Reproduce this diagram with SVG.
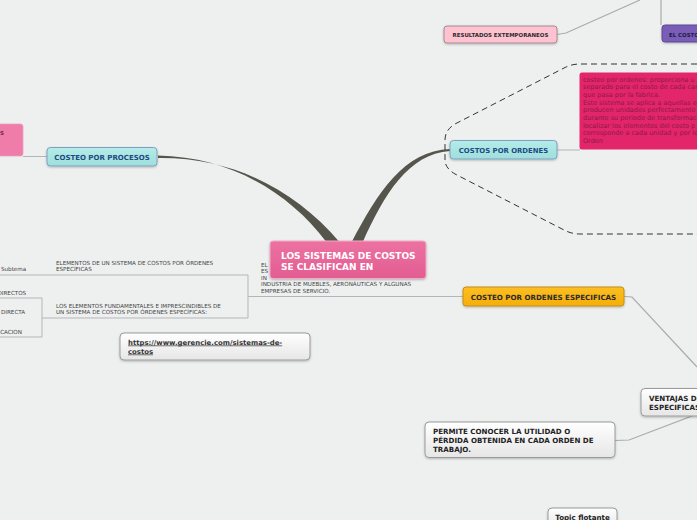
<svg xmlns="http://www.w3.org/2000/svg" width="697" height="520" viewBox="0 0 697 520">
<defs>
<linearGradient id="gCentral" x1="0" y1="0" x2="0" y2="1"><stop offset="0" stop-color="#ec72a2"/><stop offset="1" stop-color="#e35c91"/></linearGradient>
<linearGradient id="gCyan" x1="0" y1="0" x2="0" y2="1"><stop offset="0" stop-color="#b4ece8"/><stop offset="1" stop-color="#9edfdc"/></linearGradient>
<linearGradient id="gOrange" x1="0" y1="0" x2="0" y2="1"><stop offset="0" stop-color="#fdbf22"/><stop offset="1" stop-color="#f6ae0a"/></linearGradient>
<linearGradient id="gWhite" x1="0" y1="0" x2="0" y2="1"><stop offset="0" stop-color="#ffffff"/><stop offset="1" stop-color="#e6e6e6"/></linearGradient>
<filter id="sh" x="-10%" y="-20%" width="120%" height="150%"><feDropShadow dx="0" dy="1" stdDeviation="0.8" flood-color="#000" flood-opacity="0.25"/></filter>
</defs>
<style>
.b{font-family:"DejaVu Sans",Verdana,sans-serif;font-weight:bold}
.r{font-family:"DejaVu Sans",Verdana,sans-serif}
.ln{fill:none;stroke:#b4b7b7;stroke-width:1}
.lnd{fill:none;stroke:#a9acac;stroke-width:1.2}
.small{font-size:5.6px;fill:#444}
</style>
<rect width="697" height="520" fill="#eef0f0"/>

<g id="connectors">
<path d="M158,155.6 C232,157 290,194 326,241.5 L339,241.5 C296,191 234,157 158,158 Z" fill="#55554c"/>
<path d="M352,241.5 C378,192 404,151 450,149 L450,151 C408,154 384,195 363,241.5 Z" fill="#55554c"/>
<path class="ln" d="M23,156.5 L47,156.5"/>
<path class="ln" d="M557,150 L580,150"/>
<path class="lnd" d="M557,34.5 L566,33 L640,0"/>
<path class="lnd" d="M661,0 L661,25"/>
<path class="ln" d="M0,275 L248,275 L248,318 L52,318"/>
<path class="ln" d="M248,296.5 L463,296.5"/>
<path class="ln" d="M0,298 L42,298 L42,337 L0,337 M42,318 L52,318"/>
<path class="lnd" d="M624,296.5 L632,297 L697,367"/>
<path class="lnd" d="M615,440.5 L629,440 L697,414"/>
<path d="M697,64 L580,64 Q572,64 565,67.5 L455,124 Q445,130 445,140 L445,160 Q445,168 455,174 L565,230.5 Q572,234 580,234 L697,234" fill="none" stroke="#333" stroke-width="1" stroke-dasharray="6,4"/>
</g>

<g id="text-el">
<text class="r small" x="261" y="266.5">EL</text>
<text class="r small" x="261" y="273">ES</text>
<text class="r small" x="261" y="279.5">IN</text>
<text class="r small" x="261" y="286">INDUSTRIA DE MUEBLES, AERONÁUTICAS Y ALGUNAS</text>
<text class="r small" x="261" y="292.5">EMPRESAS DE SERVICIO.</text>
</g>

<g id="central">
<rect x="270" y="241" width="156" height="37.5" rx="3" fill="url(#gCentral)" stroke="#f3a9c6" stroke-width="1" filter="url(#sh)"/>
<text class="b" x="281" y="258.5" font-size="9" fill="#fff">LOS SISTEMAS DE COSTOS</text>
<text class="b" x="281" y="269.5" font-size="9" fill="#fff">SE CLASIFICAN EN</text>
</g>

<g id="pink-left">
<rect x="-6" y="124" width="29" height="32" rx="2.5" fill="#f07ca9" stroke="#e7a0bd" stroke-width="0.8"/>
<text class="b" x="0" y="135" font-size="5.5" fill="#6a2e46">S</text>
</g>

<g id="costeo-procesos">
<rect x="47" y="147.5" width="110" height="18.5" rx="3.5" fill="url(#gCyan)" stroke="#7f9fbf" stroke-width="1" filter="url(#sh)"/>
<text class="b" x="102" y="160" font-size="7" fill="#1d4a82" text-anchor="middle">COSTEO POR PROCESOS</text>
</g>

<g id="costos-ordenes">
<rect x="450" y="140.5" width="107" height="18.5" rx="3.5" fill="url(#gCyan)" stroke="#7f9fbf" stroke-width="1" filter="url(#sh)"/>
<text class="b" x="503.5" y="153" font-size="6.9" fill="#1d4a82" text-anchor="middle">COSTOS POR ORDENES</text>
</g>

<g id="nota-ordenes">
<rect x="579.5" y="72.5" width="130" height="77" rx="2.5" fill="#e3256a"/>
<g class="r" font-size="6.5" fill="#8e1a48">
<text x="583" y="81.5">costeo por ordenes: proporciona u</text>
<text x="583" y="89.2">separado para el costo de cada car</text>
<text x="583" y="96.9">que pasa por la fabrica.</text>
<text x="583" y="104.6">Este sistema se aplica a aquellas e</text>
<text x="583" y="112.3">producen unidades perfectamente</text>
<text x="583" y="120">durante su periodo de transformac</text>
<text x="583" y="127.7">localizar los elementos del costo p</text>
<text x="583" y="135.4">corresponde a cada unidad y por lo</text>
<text x="583" y="143.1">Orden</text>
</g>
</g>

<g id="resultados">
<rect x="444" y="26" width="113" height="17" rx="3" fill="#ffc2d1" stroke="#a58a93" stroke-width="1" filter="url(#sh)"/>
<text class="b" x="500.5" y="37" font-size="5.45" fill="#2b2b2b" text-anchor="middle">RESULTADOS EXTEMPORANEOS</text>
</g>

<g id="el-costo">
<rect x="662" y="25" width="50" height="17" rx="3" fill="#7a5db6" stroke="#5d4a93" stroke-width="1" filter="url(#sh)"/>
<text class="b" x="669" y="36.5" font-size="5.45" fill="#1d1a4a">EL COSTO</text>
</g>

<g id="costeo-especificas">
<rect x="463" y="287" width="161" height="19" rx="3" fill="url(#gOrange)" stroke="#c38f1a" stroke-width="1" filter="url(#sh)"/>
<text class="b" x="543.5" y="299.5" font-size="7.1" fill="#2a2a2a" text-anchor="middle">COSTEO POR ORDENES ESPECIFICAS</text>
</g>

<g id="elementos">
<text class="r small" x="56" y="264.5">ELEMENTOS DE UN SISTEMA DE COSTOS POR ÓRDENES</text>
<text class="r small" x="56" y="270.5">ESPECÍFICAS</text>
</g>
<g id="fundamentales">
<text class="r small" x="56" y="307.5">LOS ELEMENTOS FUNDAMENTALES E IMPRESCINDIBLES DE</text>
<text class="r small" x="56" y="313.5">UN SISTEMA DE COSTOS POR ÓRDENES ESPECÍFICAS:</text>
</g>
<g id="subtema"><text class="r small" x="1" y="270.5">Subtema</text></g>
<g id="directos"><text class="r small" x="-2.5" y="294.5">DIRECTOS</text></g>
<g id="directa"><text class="r small" x="1" y="314">DIRECTA</text></g>
<g id="aplicacion"><text class="r small" x="-1.5" y="333.5">ICACION</text></g>

<g id="url">
<rect x="120" y="333" width="190" height="27" rx="4" fill="url(#gWhite)" stroke="#9a9a9a" stroke-width="1" filter="url(#sh)"/>
<text class="b" x="128" y="344.5" font-size="6.9" fill="#333" text-decoration="underline">https://www.gerencie.com/sistemas-de-</text>
<text class="b" x="128" y="353.5" font-size="6.9" fill="#333" text-decoration="underline">costos</text>
</g>

<g id="ventajas">
<rect x="641" y="388.5" width="70" height="27.5" rx="4" fill="url(#gWhite)" stroke="#9a9a9a" stroke-width="1" filter="url(#sh)"/>
<text class="b" x="649" y="401" font-size="7.1" fill="#222">VENTAJAS DE</text>
<text class="b" x="649" y="410" font-size="7.1" fill="#222">ESPECIFICAS</text>
</g>

<g id="permite">
<rect x="425" y="422" width="190" height="35.5" rx="4" fill="url(#gWhite)" stroke="#9a9a9a" stroke-width="1" filter="url(#sh)"/>
<text class="b" x="433" y="434" font-size="7.1" fill="#222">PERMITE CONOCER LA UTILIDAD O</text>
<text class="b" x="433" y="443" font-size="7.1" fill="#222">PÉRDIDA OBTENIDA EN CADA ORDEN DE</text>
<text class="b" x="433" y="452" font-size="7.1" fill="#222">TRABAJO.</text>
</g>

<g id="topic-flotante">
<rect x="548" y="508" width="69" height="20" rx="4" fill="url(#gWhite)" stroke="#9a9a9a" stroke-width="1" filter="url(#sh)"/>
<text class="b" x="582.5" y="520" font-size="7.1" fill="#222" text-anchor="middle">Topic flotante</text>
</g>
</svg>
